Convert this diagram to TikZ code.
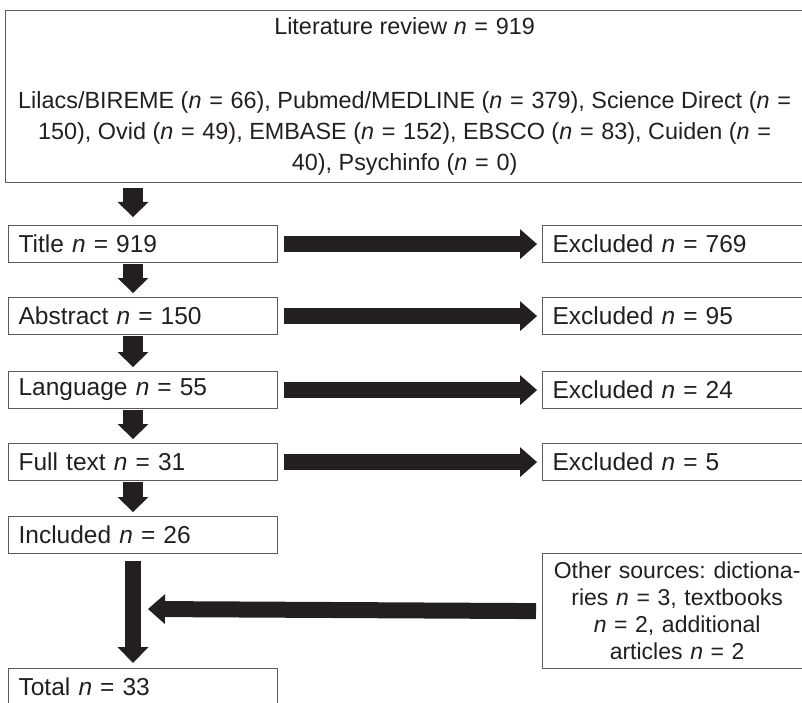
\documentclass[tikz,border=0pt]{standalone}
\usepackage{fontspec}
\setmainfont{Liberation Sans}
\usetikzlibrary{arrows.meta,calc}
\definecolor{ink}{HTML}{231F20}
\definecolor{frame}{HTML}{5A5A5C}
\newcommand{\eqs}{\hspace{0.33em}=\hspace{0.33em}}
\newcommand{\nn}{\textit{n}}
\frenchspacing
\begin{document}
\begin{tikzpicture}[x=1pt,y=-1pt,
  box/.style={draw=frame,line width=1.2pt,anchor=north west,minimum height=37pt,
    minimum width=269pt,inner sep=0pt,text width=249pt,align=left,text=ink,
    font=\fontsize{24.5}{29}\selectfont},
  vsmall/.style={draw=ink,line width=20pt,
    -{Triangle[width=31pt,length=15pt,line width=0pt]}},
  vbig/.style={draw=ink,line width=16pt,
    -{Triangle[width=31pt,length=16pt,line width=0pt]}},
  hbig/.style={draw=ink,line width=16pt,
    -{Triangle[width=30pt,length=17pt,line width=0pt]}}]
\useasboundingbox (0,0) rectangle (802,703);
\clip (0,0) rectangle (802,703);
\node[draw=frame,line width=1.2pt,anchor=north west,minimum width=798pt,
  minimum height=172pt,inner sep=0pt,align=center,text=ink,
  font=\fontsize{23.4}{31}\selectfont] (lit) at (5,10)
  {\raisebox{3pt}{Literature review \nn\eqs919}\\[40pt]
   Lilacs/BIREME (\nn\eqs66), Pubmed/MEDLINE (\nn\eqs379), Science Direct (\nn\eqs\\
   150), Ovid (\nn\eqs49), EMBASE (\nn\eqs152), EBSCO (\nn\eqs83), Cuiden (\nn\eqs\\
   40), Psychinfo (\nn\eqs0)};
\node[box] (title) at (8,225) {Title \nn\eqs919};
\node[box] (abstract) at (8,297) {Abstract \nn\eqs150};
\node[box] (language) at (8,371) {Language \nn\eqs55};
\node[box] (full) at (8,443) {Full text \nn\eqs31};
\node[box] (included) at (8,516) {Included \nn\eqs26};
\node[box] (total) at (8,668) {Total \nn\eqs33};
\node[box] (ex1) at (542,225) {Excluded \nn\eqs769};
\node[box] (ex2) at (542,297) {Excluded \nn\eqs95};
\node[box] (ex3) at (542,371) {Excluded \nn\eqs24};
\node[box] (ex4) at (542,443) {Excluded \nn\eqs5};
\node[box,minimum height=115pt,text width=262pt,align=center,
  font=\fontsize{23}{27}\selectfont] (other) at (542,553)
  {Other sources: dictiona-\\ries \nn\eqs3, textbooks\\\nn\eqs2, additional\\articles \nn\eqs2};
\coordinate (join) at ($(total.north west)+(140,-59)$);
% vertical arrows
\draw[vsmall] ($(lit.south west)+(128,5)$) -- ($(title.north west)+(125,-8)$);
\draw[vsmall] ($(title.south west)+(125,1)$) -- ($(abstract.north west)+(125,-4)$);
\draw[vsmall] ($(abstract.south west)+(125,1)$) -- ($(language.north west)+(125,-4)$);
\draw[vsmall] ($(language.south west)+(125,1)$) -- ($(full.north west)+(125,-4)$);
\draw[vsmall] ($(full.south west)+(125,1)$) -- ($(included.north west)+(125,-4)$);
\draw[vbig] ($(included.south west)+(125,7)$) -- ($(total.north west)+(125,-5)$);
% horizontal arrows
\draw[hbig] ([xshift=6pt]title.east) -- ([xshift=-5pt]ex1.west);
\draw[hbig] ([xshift=6pt]abstract.east) -- ([xshift=-5pt]ex2.west);
\draw[hbig] ([xshift=6pt]language.east) -- ([xshift=-5pt]ex3.west);
\draw[hbig] ([xshift=6pt]full.east) -- ([xshift=-5pt]ex4.west);
\draw[hbig] ([xshift=-6pt]other.west) -- (join);
\end{tikzpicture}
\end{document}
